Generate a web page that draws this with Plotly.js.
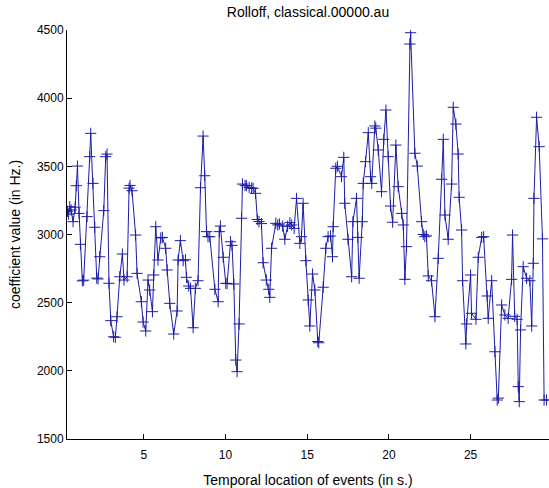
<!DOCTYPE html>
<html>
<head>
<meta charset="utf-8">
<script src="https://cdn.plot.ly/plotly-3.0.1.min.js"></script>
<style>html,body{margin:0;padding:0;background:#fff;}#chart{width:549px;height:488px;}</style>
</head>
<body>
<div id="chart"></div>
<script>
// Event times (s)
var times = [
0.33,0.40,0.47,0.55,0.67,0.80,0.87,0.94,1.04,1.12,1.24,1.32,1.53,1.69,1.75,1.89,2.00,2.12,2.20,2.30,
2.55,2.67,2.75,2.87,2.98,3.15,3.26,3.36,3.53,3.69,3.79,3.98,4.10,4.16,4.28,4.50,4.59,4.85,4.96,5.12,
5.26,5.36,5.53,5.61,5.73,5.87,6.04,6.14,6.34,6.43,6.59,6.83,7.04,7.10,7.24,7.41,7.55,7.61,7.75,7.86,
8.02,8.16,8.32,8.47,8.63,8.73,8.84,8.93,9.04,9.35,9.55,9.62,9.69,9.86,10.02,10.10,10.31,10.40,10.51,10.63,
10.71,10.83,10.98,11.04,11.20,11.28,11.45,11.60,11.69,11.84,11.95,12.05,12.20,12.30,12.50,12.65,12.71,12.82,13.08,13.20,
13.30,13.50,13.63,13.80,13.94,14.05,14.20,14.35,14.55,14.65,14.75,14.92,15.06,15.16,15.33,15.47,15.65,15.71,15.98,16.14,
16.28,16.43,16.55,16.59,16.75,16.85,17.10,17.24,17.30,17.50,17.72,17.80,18.02,18.10,18.18,18.37,18.43,18.57,18.74,18.88,
18.95,19.14,19.20,19.35,19.55,19.69,19.82,19.96,20.10,20.23,20.43,20.57,20.78,20.88,20.98,21.08,21.29,21.33,21.59,21.74,
22.00,22.10,22.20,22.30,22.41,22.61,22.82,23.02,23.23,23.33,23.43,23.63,23.84,23.94,24.10,24.24,24.30,24.45,24.51,24.71,
24.76,25.00,25.06,25.33,25.47,25.68,25.80,26.02,26.08,26.29,26.49,26.63,26.70,26.90,27.10,27.30,27.51,27.57,27.70,27.85,
27.92,27.98,28.06,28.22,28.43,28.63,28.74,28.84,28.88,29.04,29.20,29.40,29.50,29.65
];
// Rolloff coefficient values (Hz)
var rolloff = [
3170,3150,3204,3180,3094,3200,3358,3502,3155,2928,2660,2665,3131,3571,3742,3375,3053,2680,2674,2837,
3175,3571,3590,2642,2368,2250,2246,2397,2690,2857,2666,2690,3340,3360,3321,2996,2715,2507,2358,2292,
2666,2593,2434,2703,3057,2813,2975,2979,2899,2740,2495,2270,2439,2813,2955,2808,2815,2686,2622,2605,
2316,2605,2661,3343,3722,3431,3021,2984,2984,2598,2507,3021,3062,2833,2642,2640,2947,2920,2637,2079,
1994,2344,3119,3370,3360,3358,3345,3340,3339,3302,3110,3095,3080,2793,2666,2598,2539,2899,3082,3070,
3077,3062,2965,3060,3087,3070,3045,3265,2935,2984,3229,2808,2520,2329,2710,2593,2215,2206,2613,2899,
2984,2989,2837,3057,3486,3500,3424,3566,3229,2965,2690,3094,3265,2979,2679,3094,3375,3534,3747,3424,
3375,3796,3780,3620,3314,3698,3913,3571,3209,3090,3656,3351,3155,3070,2671,2911,4397,4480,3596,3502,
3094,3000,2984,2990,2696,2661,2397,2825,3405,3698,3143,2965,3370,3933,3810,3590,3273,3033,2661,2197,
2344,2703,2422,2378,2833,2979,2984,2549,2385,2661,2140,1786,1800,2483,2410,2385,2671,2996,2400,2378,
1884,1774,2300,2764,2679,2661,2329,2789,3265,3860,3644,2968,1786,1786
];
var xTicks = [5,10,15,20,25];
var yTicks = [1500,2000,2500,3000,3500,4000,4500];

var lineColor = '#1c1ca8';
var fnt = {family:'"Liberation Sans", Arial, Helvetica, sans-serif', size:12, color:'#000'};
var tfnt = {family:'"Liberation Sans", Arial, Helvetica, sans-serif', size:14, color:'#000'};

var trace = {
  x: times, y: rolloff, type:'scatter', mode:'lines+markers',
  line:{color:lineColor, width:1},
  marker:{symbol:'cross-thin-open', size:8, line:{color:lineColor, width:1}, color:lineColor},
  hoverinfo:'skip'
};

var layout = {
  width:549, height:488,
  paper_bgcolor:'#fff', plot_bgcolor:'#fff',
  margin:{l:67, r:0, t:30, b:49, pad:0},
  showlegend:false,
  font:fnt,
  title:{text:'Rolloff, classical.00000.au', font:tfnt, x:0.5, xref:'paper', y:0.975, yref:'container', yanchor:'middle'},
  xaxis:{
    range:[0.3,29.8], tickvals:xTicks, ticktext:xTicks.map(String),
    ticks:'inside', ticklen:5, tickcolor:'#000', tickwidth:1, ticklabelstandoff:5,
    showline:true, linecolor:'#000', linewidth:1, mirror:false, automargin:false,
    showgrid:false, zeroline:false, tickfont:fnt,
    title:{text:'Temporal location of events (in s.)', font:tfnt, standoff:27}
  },
  yaxis:{
    range:[1500,4500], tickvals:yTicks, ticktext:yTicks.map(String),
    ticks:'inside', ticklen:5, tickcolor:'#000', tickwidth:1,
    showline:true, linecolor:'#000', linewidth:1, mirror:false, automargin:false,
    showgrid:false, zeroline:false, tickfont:fnt,
    title:{text:'coefficient value (in Hz.)', font:tfnt, standoff:12}
  }
};

Plotly.newPlot('chart', [trace], layout, {displayModeBar:false, staticPlot:true});
</script>
</body>
</html>
